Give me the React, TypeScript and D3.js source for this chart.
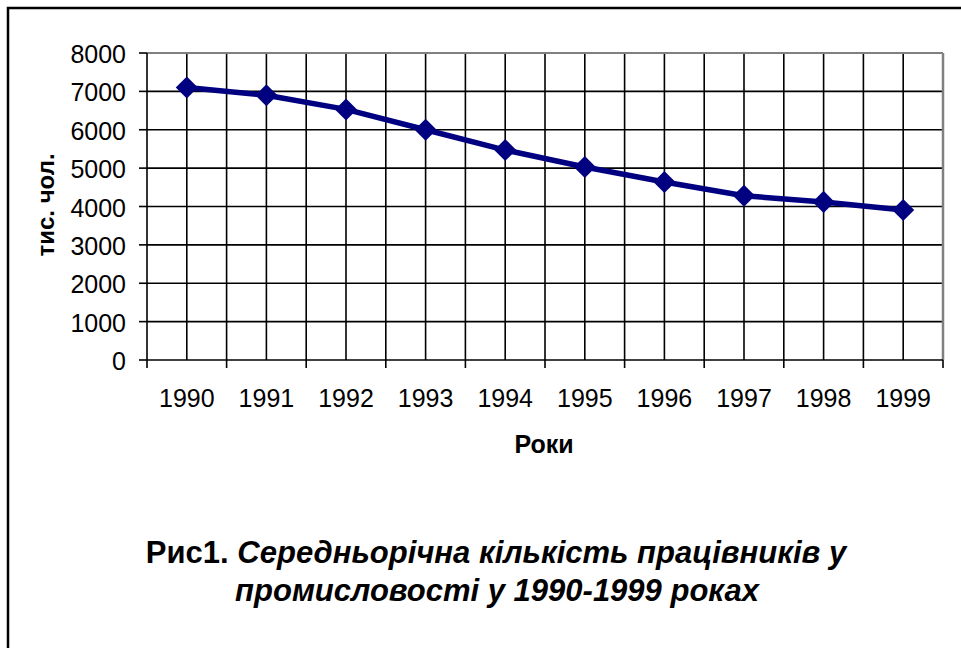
import React from "react";
import * as d3 from "d3";

const years = ["1990", "1991", "1992", "1993", "1994", "1995", "1996", "1997", "1998", "1999"];
const workers = [7100, 6900, 6530, 6000, 5470, 5030, 4640, 4280, 4120, 3910];
const yTicks = [0, 1000, 2000, 3000, 4000, 5000, 6000, 7000, 8000];

const W = 961;
const H = 648;
const plot = { left: 147, right: 943, top: 53, bottom: 360 };
const font = "'Liberation Sans', Arial, sans-serif";

export default function App() {
    const x = d3.scaleBand<string>().domain(years).range([plot.left, plot.right]);
    const y = d3.scaleLinear().domain([0, 8000]).range([plot.bottom, plot.top]);
    const cx = (yr: string) => (x(yr) ?? 0) + x.bandwidth() / 2;

    const line = d3.line<number>()
        .x((_, i) => cx(years[i]))
        .y(d => y(d));

    const diamond = d3.symbol().type(d3.symbolDiamond2).size(310)();

    const boundaries = years.map(yr => x(yr) ?? 0).concat([plot.right]);

    return <div style={{ position: "absolute", left: 0, top: 0 }}>
        <svg width={W} height={H} style={{ display: "block", background: "#fff" }}>
            <rect x={8} y={8} width={W + 20} height={H + 20} fill="#fff" stroke="#000" strokeWidth={2.5} />

            {/* horizontal grid */}
            {yTicks.filter(t => t > 0 && t < 8000).map(t =>
                <line key={"h" + t} x1={plot.left} x2={plot.right} y1={y(t)} y2={y(t)} stroke="#000" strokeWidth={1.6} />
            )}
            {/* vertical grid: boundaries and centres */}
            {boundaries.slice(1, -1).map((b, i) =>
                <line key={"vb" + i} x1={b} x2={b} y1={plot.top} y2={plot.bottom} stroke="#000" strokeWidth={1.6} />
            )}
            {years.map(yr =>
                <line key={"vc" + yr} x1={cx(yr)} x2={cx(yr)} y1={plot.top} y2={plot.bottom} stroke="#000" strokeWidth={1.6} />
            )}

            {/* plot frame */}
            <line x1={plot.left} x2={plot.right} y1={plot.top} y2={plot.top} stroke="#808080" strokeWidth={2} />
            <line x1={plot.right} x2={plot.right} y1={plot.top} y2={plot.bottom} stroke="#808080" strokeWidth={2.5} />
            <line x1={plot.left} x2={plot.left} y1={plot.top} y2={plot.bottom} stroke="#000" strokeWidth={1.6} />
            <line x1={plot.left} x2={plot.right} y1={plot.bottom} y2={plot.bottom} stroke="#000" strokeWidth={1.6} />

            {/* y ticks */}
            {yTicks.map(t =>
                <g key={"yt" + t}>
                    <line x1={plot.left - 8} x2={plot.left} y1={y(t)} y2={y(t)} stroke="#000" strokeWidth={1.6} />
                    <text x={126} y={y(t)} dy={10} textAnchor="end" fontFamily={font} fontSize={25}>{t}</text>
                </g>
            )}
            {/* x ticks */}
            {boundaries.map((b, i) =>
                <line key={"xt" + i} x1={b} x2={b} y1={plot.bottom} y2={plot.bottom + 8} stroke="#000" strokeWidth={1.6} />
            )}
            {years.map(yr =>
                <text key={"xl" + yr} x={cx(yr)} y={407} textAnchor="middle" fontFamily={font} fontSize={25}>{yr}</text>
            )}

            {/* series */}
            <path d={line(workers) ?? ""} fill="none" stroke="#000080" strokeWidth={5.5} strokeLinejoin="round" />
            {workers.map((v, i) =>
                <path key={"m" + i} d={diamond ?? ""} transform={`translate(${cx(years[i])},${y(v)})`} fill="#000080" />
            )}

            {/* axis titles */}
            <text transform="translate(54,205) rotate(-90)" textAnchor="middle" fontFamily={font} fontSize={24} fontWeight="bold">тис. чол.</text>
            <text x={544} y={453} textAnchor="middle" fontFamily={font} fontSize={25} fontWeight="bold">Роки</text>

            {/* caption */}
            <text x={496} y={563} textAnchor="middle" fontFamily={font} fontSize={31} fontWeight="bold">
                Рис1. <tspan fontStyle="italic">Середньорічна кількість працівників у</tspan>
            </text>
            <text x={497} y={601} textAnchor="middle" fontFamily={font} fontSize={31} fontWeight="bold" fontStyle="italic">
                промисловості у 1990-1999 роках
            </text>
        </svg>
    </div>;
}
